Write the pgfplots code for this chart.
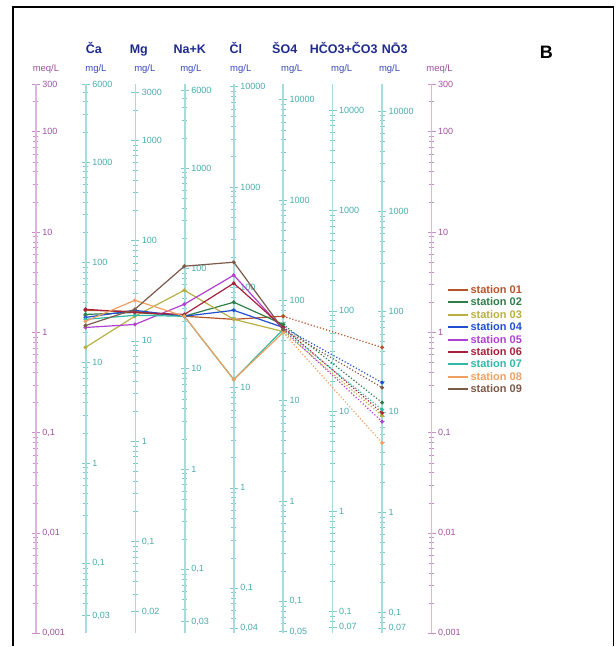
\documentclass[border=0pt]{standalone}
\usepackage{pgfplots}
\pgfplotsset{compat=1.18}
\usepackage{fontspec}
\setmainfont{Liberation Sans}
\definecolor{c1}{HTML}{B5542A}
\definecolor{c2}{HTML}{2E7D4A}
\definecolor{c3}{HTML}{B8B040}
\definecolor{c4}{HTML}{2050D0}
\definecolor{c5}{HTML}{B040D0}
\definecolor{c6}{HTML}{A8203C}
\definecolor{c7}{HTML}{30B8A8}
\definecolor{c8}{HTML}{F0A060}
\definecolor{c9}{HTML}{7A5A48}
\definecolor{colline}{HTML}{A8DCDC}
\definecolor{coltick}{HTML}{80C8C8}
\definecolor{collab}{HTML}{48ACAC}
\definecolor{meqline}{HTML}{DDB4DD}
\definecolor{meqtick}{HTML}{C890C8}
\definecolor{meqlab}{HTML}{A050A0}
\definecolor{hdr}{HTML}{1E2A8C}
\definecolor{mgl}{HTML}{3848B8}
\pgfplotsset{
  baseax/.style={scale only axis, width=1pt, height=550pt, anchor=south east,
    xmin=0, xmax=1, axis y line*=right, axis x line=none,
    tick align=center, major tick length=8pt, minor tick length=5pt,
    minor ytick={0.0002,0.0003,0.0004,0.0005,0.0006,0.0007,0.0008,0.0009,
      0.002,0.003,0.004,0.005,0.006,0.007,0.008,0.009,
      0.02,0.03,0.04,0.05,0.06,0.07,0.08,0.09,
      0.2,0.3,0.4,0.5,0.6,0.7,0.8,0.9,
      2,3,4,5,6,7,8,9,
      20,30,40,50,60,70,80,90,
      200,300,400,500,600,700,800,900,
      2000,3000,4000,5000,6000,7000,8000,9000},
    yticklabel style={font=\fontsize{9}{10}\selectfont, xshift=-1pt}},
  colax/.style={baseax,
    y axis line style={colline, line width=1.6pt},
    major tick style={coltick, line width=0.7pt},
    minor tick style={coltick, line width=0.6pt},
    yticklabel style={text=collab}},
  meqax/.style={baseax, ymin=0.001, ymax=300,
    y axis line style={meqline, line width=1.2pt},
    major tick style={meqtick, line width=0.7pt},
    minor tick style={meqtick, line width=0.6pt},
    yticklabel style={text=meqlab},
    ytick={0.001,0.01,0.1,1,10,100,300},
    yticklabels={{0,001},{0,01},{0,1},1,10,100,300}},
  st/.style={#1, line width=1.2pt, mark=*, mark size=1.3pt, mark options={solid}},
  sd/.style={#1, line width=1.2pt, dotted, mark=*, mark size=1.3pt, mark options={solid}, forget plot}
}
\begin{document}
\begin{tikzpicture}
\path (0,0) rectangle (616pt,647pt);
% frame
\draw[line width=1.3pt] (13pt,0pt) -- (13pt,640pt) -- (614pt,640pt) -- (614pt,0pt);
% meq axes
\begin{semilogyaxis}[meqax, at={(36pt,13pt)}] \end{semilogyaxis}
\begin{semilogyaxis}[meqax, at={(432pt,13pt)}] \end{semilogyaxis}
% Ca
\begin{semilogyaxis}[colax, at={(86pt,13pt)}, ymin=0.02004, ymax=6012,
  ytick={0.03,0.1,1,10,100,1000,6000}, yticklabels={{0,03},{0,1},1,10,100,1000,6000}] \end{semilogyaxis}
% Mg
\begin{semilogyaxis}[colax, at={(135.5pt,13pt)}, ymin=0.01215, ymax=3645,
  ytick={0.02,0.1,1,10,100,1000,3000}, yticklabels={{0,02},{0,1},1,10,100,1000,3000}] \end{semilogyaxis}
% Na+K
\begin{semilogyaxis}[colax, at={(185pt,13pt)}, ymin=0.023, ymax=6900,
  ytick={0.03,0.1,1,10,100,1000,6000}, yticklabels={{0,03},{0,1},1,10,100,1000,6000}] \end{semilogyaxis}
% Cl
\begin{semilogyaxis}[colax, at={(234pt,13pt)}, ymin=0.03545, ymax=10635,
  ytick={0.04,0.1,1,10,100,1000,10000}, yticklabels={{0,04},{0,1},1,10,100,1000,10000}] \end{semilogyaxis}
% SO4
\begin{semilogyaxis}[colax, at={(283.5pt,13pt)}, ymin=0.04803, ymax=14409,
  ytick={0.05,0.1,1,10,100,1000,10000}, yticklabels={{0,05},{0,1},1,10,100,1000,10000}] \end{semilogyaxis}
% HCO3+CO3
\begin{semilogyaxis}[colax, at={(333pt,13pt)}, ymin=0.06102, ymax=18306,
  ytick={0.07,0.1,1,10,100,1000,10000}, yticklabels={{0,07},{0,1},1,10,100,1000,10000}] \end{semilogyaxis}
% NO3
\begin{semilogyaxis}[colax, at={(382.5pt,13pt)}, ymin=0.062, ymax=18600,
  ytick={0.07,0.1,1,10,100,1000,10000}, yticklabels={{0,07},{0,1},1,10,100,1000,10000}] \end{semilogyaxis}
% data
\begin{semilogyaxis}[scale only axis, width=396pt, height=550pt, at={(36pt,13pt)}, anchor=south west,
  xmin=0, xmax=8, ymin=0.001, ymax=300, hide axis, clip=false,
  legend cell align=left,
  legend image code/.code={\draw[#1, solid, line width=2pt] (0pt,0pt) -- (20pt,0pt);},
  legend style={at={(1.03,0.640)}, anchor=north west, draw=none, fill=none,
    font=\fontsize{11}{12}\selectfont\bfseries, row sep=0pt,
    nodes={inner sep=2pt, text height=7.6pt, text depth=0.8pt}}]
\addplot[st=c1] coordinates {(1,1.66)(2,1.62)(3,1.45)(4,1.35)(5,1.45)};
\addlegendentry{\textcolor{c1}{station 01}}
\addplot[st=c2] coordinates {(1,1.51)(2,1.58)(3,1.45)(4,2.00)(5,1.20)};
\addlegendentry{\textcolor{c2}{station 02}}
\addplot[st=c3] coordinates {(1,0.708)(2,1.45)(3,2.63)(4,1.35)(5,1.02)};
\addlegendentry{\textcolor{c3}{station 03}}
\addplot[st=c4] coordinates {(1,1.41)(2,1.66)(3,1.45)(4,1.66)(5,1.12)};
\addlegendentry{\textcolor{c4}{station 04}}
\addplot[st=c5] coordinates {(1,1.12)(2,1.20)(3,1.91)(4,3.72)(5,1.07)};
\addlegendentry{\textcolor{c5}{station 05}}
\addplot[st=c6] coordinates {(1,1.70)(2,1.58)(3,1.51)(4,3.09)(5,1.12)};
\addlegendentry{\textcolor{c6}{station 06}}
\addplot[st=c7] coordinates {(1,1.35)(2,1.48)(3,1.45)(4,0.339)(5,1.07)};
\addlegendentry{\textcolor{c7}{station 07}}
\addplot[st=c8] coordinates {(1,1.29)(2,2.09)(3,1.45)(4,0.339)(5,1.00)};
\addlegendentry{\textcolor{c8}{station 08}}
\addplot[st=c9] coordinates {(1,1.17)(2,1.70)(3,4.57)(4,5.01)(5,1.07)};
\addlegendentry{\textcolor{c9}{station 09}}
\addplot[sd=c1] coordinates {(5,1.45)(7,0.708)};
\addplot[sd=c2] coordinates {(5,1.20)(7,0.200)};
\addplot[sd=c3] coordinates {(5,1.02)(7,0.148)};
\addplot[sd=c4] coordinates {(5,1.12)(7,0.316)};
\addplot[sd=c5] coordinates {(5,1.07)(7,0.129)};
\addplot[sd=c6] coordinates {(5,1.12)(7,0.158)};
\addplot[sd=c7] coordinates {(5,1.07)(7,0.170)};
\addplot[sd=c8] coordinates {(5,1.00)(7,0.0794)};
\addplot[sd=c9] coordinates {(5,1.07)(7,0.282)};
\end{semilogyaxis}
% headers
\begin{scope}[every node/.style={font=\fontsize{12.5}{14}\selectfont\bfseries, text=hdr, anchor=base}]
\node at (94pt,593pt) {Ča};
\node at (139pt,593pt) {Mg};
\node at (190pt,593pt) {Na+K};
\node at (236pt,593pt) {Čl};
\node at (285pt,593pt) {ŠO4};
\node at (344pt,593pt) {HČO3+ČO3};
\node at (395pt,593pt) {NŌ3};
\end{scope}
\begin{scope}[every node/.style={font=\fontsize{9.5}{10}\selectfont, text=mgl, anchor=base}]
\node at (96pt,575pt) {mg/L};
\node at (145pt,575pt) {mg/L};
\node at (191pt,575pt) {mg/L};
\node at (241pt,575pt) {mg/L};
\node at (292pt,575pt) {mg/L};
\node at (342pt,575pt) {mg/L};
\node at (390pt,575pt) {mg/L};
\node[text=meqlab] at (46pt,575pt) {meq/L};
\node[text=meqlab] at (440pt,575pt) {meq/L};
\end{scope}
\node[font=\fontsize{18}{19}\selectfont\bfseries] at (547pt,595pt) {B};
\end{tikzpicture}
\end{document}
